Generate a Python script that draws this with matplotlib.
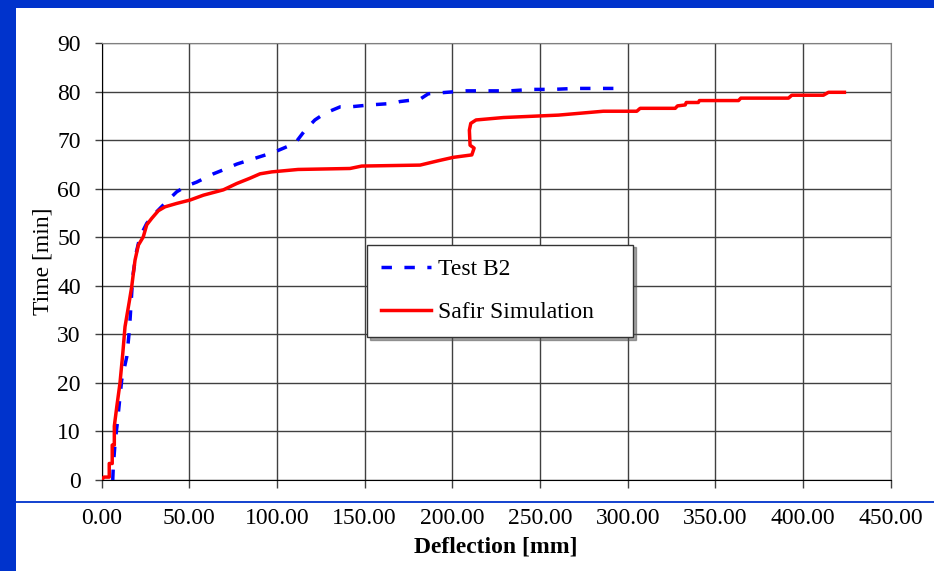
import matplotlib
matplotlib.use("Agg")
import matplotlib.pyplot as plt
from matplotlib.patches import Rectangle
from matplotlib.lines import Line2D

# Test B2 deflection [mm] vs time [min]
test_defl = [6.3, 6.6, 7.6, 8.9, 11.4, 14.3, 15.8, 17.7, 19.6, 21.8, 25.7, 31.4, 37.1,
             42.8, 48.5, 54.2, 63.7, 71.3, 77.0, 85.6, 97.9, 110.3, 116.0, 121.6, 127.4,
             136.0, 141.6, 153.0, 165.4, 170.2, 181.6, 186.3, 196.8, 208.2, 232.9, 245.3,
             257.3, 270.0, 295.5]
test_time = [0.0, 2.7, 7.6, 11.7, 20.6, 25.4, 30.9, 41.9, 46.7, 50.1, 52.9, 55.3, 57.4,
             59.4, 60.6, 61.4, 63.1, 64.2, 65.1, 66.1, 67.5, 69.4, 72.1, 74.2, 75.6,
             76.9, 76.9, 77.3, 77.6, 78.0, 78.5, 79.6, 79.9, 80.2, 80.2, 80.5,
             80.5, 80.7, 80.7]

# Safir simulation
safir_defl = [0, 1.3, 4.3, 4.3, 6.0, 6.0, 7.2, 7.2, 8.6, 10.4, 12.0, 13.3, 15.7, 17.1,
              19.0, 20.9, 23.7, 25.7, 28.5, 32.3, 36.1, 42.8, 50.4, 58.0, 69.4, 77.0,
              84.6, 90.3, 97.0, 112.0, 141.6, 148.3, 181.6, 192.0, 200.6, 211.1, 212.4,
              210.1, 209.7, 210.5, 213.5, 229.1, 260.5, 286.1, 305.2, 307.1, 327.1,
              328.4, 332.8, 333.4, 340.3, 340.9, 363.2, 364.5, 391.7, 393.6, 411.6,
              414.5, 423.6]
safir_time = [0, 0.6, 0.6, 3.4, 3.4, 7.2, 7.2, 11.1, 15.1, 19.9, 26.0, 31.6, 36.7, 39.8,
              45.3, 48.4, 50.1, 52.6, 53.9, 55.5, 56.3, 57.0, 57.7, 58.7, 59.8, 61.1,
              62.2, 63.1, 63.5, 64.0, 64.2, 64.7, 64.9, 65.8, 66.5, 67.0, 68.4,
              69.0, 72.1, 73.5, 74.2, 74.7, 75.2, 76.0, 76.0, 76.6, 76.6,
              77.1, 77.3, 77.8, 77.8, 78.2, 78.2, 78.7, 78.7, 79.3, 79.3,
              79.9, 79.9]

x_ticks = [0, 50, 100, 150, 200, 250, 300, 350, 400, 450]
y_ticks = [0, 10, 20, 30, 40, 50, 60, 70, 80, 90]

plt.rcParams['font.family'] = ['Liberation Serif', 'DejaVu Serif']
border_blue = "#0033cc"

fig = plt.figure(figsize=(9.34, 5.71), dpi=100, facecolor=border_blue)
W, H = 934, 571
# white slide area behind everything
fig.patches.append(Rectangle((16 / W, 0), 1 - 16 / W, 1 - 8 / H, transform=fig.transFigure,
                             facecolor="white", edgecolor="none", zorder=-5))
fig.lines.append(Line2D([16 / W, 1], [1 - 502 / H, 1 - 502 / H], transform=fig.transFigure,
                        color=border_blue, lw=1.3, zorder=-4))

ax = fig.add_axes([101.7 / W, 1 - 480 / H, 789 / W, 436.7 / H])
ax.set_facecolor("white")

ax.plot(test_defl, test_time, color="#0000ff", lw=2.5, linestyle=(0, (3.0, 3.6)),
        label="Test B2", zorder=3)
ax.plot(safir_defl, safir_time, color="#ff0000", lw=2.5, label="Safir Simulation", zorder=4)

ax.set_xlim(0, 450)
ax.set_ylim(0, 90)
ax.set_xticks(x_ticks)
ax.set_xticklabels([f"{v:.2f}" for v in x_ticks])
ax.set_yticks(y_ticks)
ax.grid(True, color="#404040", lw=1.0)
ax.set_axisbelow(True)
ax.tick_params(axis="x", direction="out", length=5.5, width=1, color="#404040",
               labelsize=17, pad=15)
ax.tick_params(axis="y", direction="out", length=5, width=1, color="#404040",
               labelsize=17, pad=10)
ax.spines["left"].set_color("black")
ax.spines["bottom"].set_color("black")
ax.spines["top"].set_color("#808080")
ax.spines["right"].set_color("#808080")

ax.set_xlabel("Deflection [mm]", fontsize=17, fontweight="bold")
ax.xaxis.set_label_coords(0.5, (480 - 537) / 436.7)
ax.set_ylabel("Time [min]", fontsize=17)
ax.yaxis.set_label_coords((54 - 101.7) / 789, 0.5)

leg = ax.legend(loc="lower left", bbox_to_anchor=(0.336, 0.327, 0.338, 0.222), mode="expand",
                fontsize=17, frameon=True, fancybox=False, shadow=True, borderpad=0.6,
                labelspacing=0.9, handlelength=2.1, handletextpad=0.3, borderaxespad=0)
leg.get_frame().set_edgecolor("#333333")
leg.get_frame().set_linewidth(1.0)
leg.get_frame().set_alpha(1)

fig.savefig("out.png", dpi=100, facecolor=fig.get_facecolor())
